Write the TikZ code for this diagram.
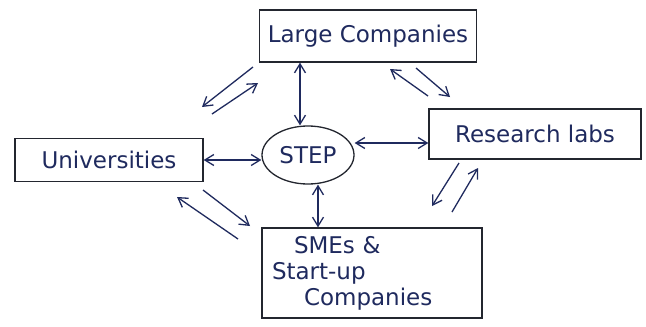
\documentclass[tikz,border=0pt]{standalone}
\usepackage{fontspec}
\setmainfont{DejaVu Sans}
\usetikzlibrary{arrows.meta,shapes.geometric}
\definecolor{ink}{HTML}{1F2A5E}
\definecolor{boxink}{HTML}{23262F}
\begin{document}
\begin{tikzpicture}[x=1pt,y=-1pt,
  box/.style={draw=boxink,line width=1.3pt,inner sep=0pt,text=ink,font=\fontsize{23}{26}\selectfont},
  tip/.style={Straight Barb[length=9pt,width=11pt]},
  link/.style={draw=ink,line width=1.3pt,{Straight Barb[length=9pt,width=11pt]}-{Straight Barb[length=9pt,width=11pt]}},
  oneway/.style={draw=ink,line width=1.3pt,-{Straight Barb[length=9pt,width=11pt]}}]
\useasboundingbox (0,0) rectangle (646,327);
\fill[white] (0,0) rectangle (646,327);

% actors
\node[box,minimum width=217pt,minimum height=52pt] (large) at (368,36) {Large Companies};
\node[box,minimum width=188pt,minimum height=43pt] (uni) at (109,160) {Universities};
\node[box,ellipse,minimum width=92pt,minimum height=58pt] (step) at (308,155) {STEP};
\node[box,minimum width=212pt,minimum height=50pt] (labs) at (535,134) {Research labs};
\node[box,minimum width=220pt,minimum height=90pt,text width=200pt,align=left] (sme) at (372,273)
  {\hspace*{22pt}SMEs \&\\Start-up\\\hspace*{32pt}Companies};

% connectors to the hub
\draw[link] (large.south -| 300,0) -- (step.north -| 300,0);
\draw[link] (uni.east) -- (step.west |- uni.east);
\draw[link] (step.east |- 0,143) -- (labs.west |- 0,143);
\draw[link] (step.south -| 318,0) -- (sme.north -| 318,0);

% paired exchanges between actors
\coordinate (lu1) at (253,67); \coordinate (lu2) at (202,107);
\coordinate (lu3) at (212,114); \coordinate (lu4) at (258,83);
\draw[oneway] (lu1) -- (lu2);
\draw[oneway] (lu3) -- (lu4);

\coordinate (lr1) at (428,96); \coordinate (lr2) at (390,69);
\coordinate (lr3) at (416,68); \coordinate (lr4) at (450,97);
\draw[oneway] (lr1) -- (lr2);
\draw[oneway] (lr3) -- (lr4);

\coordinate (rs1) at (459,163); \coordinate (rs2) at (432,206);
\coordinate (rs3) at (452,212); \coordinate (rs4) at (478,168);
\draw[oneway] (rs1) -- (rs2);
\draw[oneway] (rs3) -- (rs4);

\coordinate (us1) at (238,239); \coordinate (us2) at (177,197);
\coordinate (us3) at (203,190); \coordinate (us4) at (250,226);
\draw[oneway] (us1) -- (us2);
\draw[oneway] (us3) -- (us4);
\end{tikzpicture}
\end{document}
